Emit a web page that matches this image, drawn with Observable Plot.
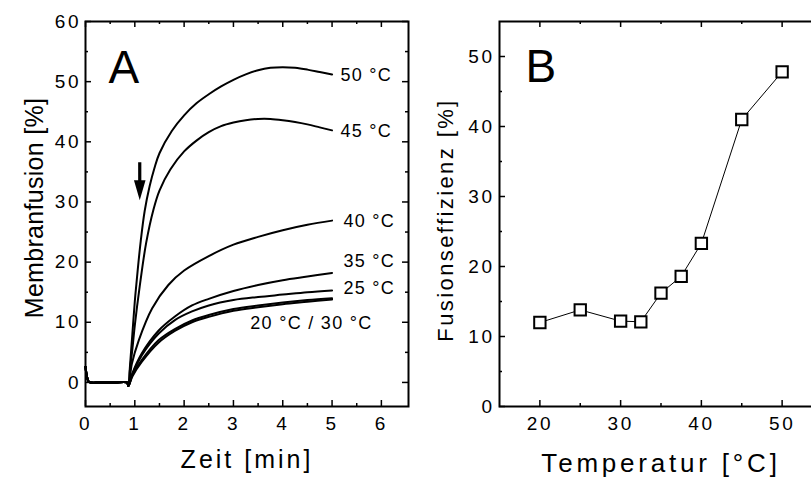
<!DOCTYPE html>
<html><head><meta charset="utf-8">
<script src="https://cdn.jsdelivr.net/npm/d3@7"></script>
<script src="https://cdn.jsdelivr.net/npm/@observablehq/plot@0.6"></script>
<style>
html,body{margin:0;padding:0;background:#fff;}
#wrap{position:relative;width:811px;height:480px;overflow:hidden;background:#fff;}
#a,#b{position:absolute;top:0;}
#a{left:0;} #b{left:410px;}
svg text{font-family:"Liberation Sans",Arial,sans-serif;}
g[aria-label="x-axis tick label"] text, g[aria-label="y-axis tick label"] text{letter-spacing:2.5px;}
</style>
</head><body>
<div id="wrap"><div id="a"></div><div id="b"></div></div>
<script>
// ---------- Panel A data: Membranfusion [%] vs Zeit [min] ----------
const baseT = [0, 0.03, 0.07, 0.3, 0.6, 0.84, 0.87];
const baseV = [2.6, 1.0, 0.1, 0, 0, 0, -0.6];

const t50 = [0.9, 0.95, 1.0, 1.06, 1.12, 1.2, 1.3, 1.4, 1.5, 1.75, 2.0, 2.25, 2.5, 2.75, 3.0, 3.25, 3.5, 3.75, 4.0, 4.25, 4.5, 4.75, 5.0];
const v50 = [2.5, 8, 13.5, 18.8, 23.5, 28.5, 32.6, 35.7, 38.1, 41.8, 44.4, 46.4, 47.9, 49.2, 50.3, 51.2, 51.9, 52.3, 52.4, 52.3, 52.0, 51.6, 51.2];

const t45 = [0.9, 0.95, 1.0, 1.1, 1.23, 1.38, 1.5, 1.72, 2.0, 2.25, 2.5, 2.75, 3.0, 3.25, 3.5, 3.75, 4.0, 4.25, 4.5, 4.75, 5.0];
const v45 = [2, 5.5, 9.5, 16, 23.2, 28.8, 31.9, 35.4, 38.4, 40.2, 41.6, 42.6, 43.2, 43.6, 43.8, 43.8, 43.6, 43.3, 42.9, 42.4, 41.9];

const t40 = [0.94, 1.08, 1.35, 1.68, 2.0, 2.5, 3.0, 3.5, 4.0, 4.5, 5.0];
const v40 = [3.1, 7.0, 12.3, 16.2, 18.6, 21.0, 22.9, 24.2, 25.3, 26.2, 26.9];

const t35 = [0.95, 1.14, 1.48, 1.82, 2.16, 2.5, 3.0, 3.5, 4.0, 4.5, 5.0];
const v35 = [1.5, 4.8, 8.6, 11.0, 12.8, 13.9, 15.2, 16.2, 17.0, 17.6, 18.2];

const t25 = [0.95, 1.14, 1.48, 1.82, 2.16, 2.5, 3.0, 3.5, 4.0, 4.5, 5.0];
const v25 = [1.4, 4.5, 8.1, 10.4, 11.8, 12.8, 13.7, 14.2, 14.6, 15.0, 15.3];

const t20 = [0.95, 1.14, 1.48, 1.82, 2.16, 2.5, 3.0, 3.5, 4.0, 4.5, 5.0];
const v20 = [1.2, 3.7, 7.0, 8.9, 10.3, 11.2, 12.2, 12.8, 13.3, 13.7, 14.0];

const t30 = [0.95, 1.14, 1.48, 1.82, 2.16, 2.5, 3.0, 3.5, 4.0, 4.5, 5.0];
const v30 = [1.0, 3.4, 6.6, 8.6, 10.0, 10.9, 11.9, 12.5, 13.0, 13.4, 13.8];

const curveNames = ["50", "45", "40", "35", "25", "20", "30"];
const curveT = [t50, t45, t40, t35, t25, t20, t30];
const curveV = [v50, v45, v40, v35, v25, v20, v30];

const labelText = ["50 °C", "45 °C", "40 °C", "35 °C", "25 °C", "20 °C / 30 °C"];
const labelT = [5.17, 5.17, 5.23, 5.23, 5.23, 3.34];
const labelV = [51.0, 41.7, 26.8, 20.1, 15.6, 9.9];

const arrowT = [1.1];
const arrowV = [36.6];

const xMajorA = [0, 1, 2, 3, 4, 5, 6];
const xMinorA = [0.5, 1.5, 2.5, 3.5, 4.5, 5.5];
const yMajorA = [0, 10, 20, 30, 40, 50, 60];
const yMinorA = [5, 15, 25, 35, 45, 55];

// ---------- Panel B data: Fusionseffizienz [%] vs Temperatur [°C] ----------
const temps = [20, 25, 30, 32.5, 35, 37.5, 40, 45, 50];
const effs = [12.0, 13.8, 12.2, 12.1, 16.2, 18.6, 23.3, 41.0, 47.8];

const xMajorB = [20, 30, 40, 50];
const xMinorB = [25, 35, 45];
const yMajorB = [0, 10, 20, 30, 40, 50];
const yMinorB = [5, 15, 25, 35, 45];

// ---------- build ----------
const curves = [];
curveNames.forEach((name, k) => {
  baseT.forEach((t, i) => curves.push({name, t, v: baseV[i]}));
  curveT[k].forEach((t, i) => curves.push({name, t, v: curveV[k][i]}));
});
const labels = labelText.map((text, i) => ({text, t: labelT[i], v: labelV[i]}));
const arrows = arrowT.map((t, i) => ({t, v: arrowV[i]}));
const points = temps.map((t, i) => ({t, e: effs[i]}));

const arrowSymbol = {
  draw(ctx) {
    ctx.moveTo(-1.6, 0);
    ctx.lineTo(1.6, 0);
    ctx.lineTo(1.6, 18);
    ctx.lineTo(5.8, 18);
    ctx.lineTo(0, 38);
    ctx.lineTo(-5.8, 18);
    ctx.lineTo(-1.6, 18);
    ctx.closePath();
  }
};

function tickMarks(xMaj, xMin, yMaj, yMin, iw, ih, right) {
  const sw = 1.5, L = 6, l = 3;
  const m = [
    Plot.tickX(xMaj, {x: d => d, insetTop: ih - L, strokeWidth: sw}),
    Plot.tickX(xMaj, {x: d => d, insetBottom: ih - L, strokeWidth: sw}),
    Plot.tickX(xMin, {x: d => d, insetTop: ih - l, strokeWidth: sw}),
    Plot.tickX(xMin, {x: d => d, insetBottom: ih - l, strokeWidth: sw}),
    Plot.tickY(yMaj, {y: d => d, insetRight: iw - L, strokeWidth: sw}),
    Plot.tickY(yMin, {y: d => d, insetRight: iw - l, strokeWidth: sw})
  ];
  if (right) {
    m.push(Plot.tickY(yMaj, {y: d => d, insetLeft: iw - L, strokeWidth: sw}));
    m.push(Plot.tickY(yMin, {y: d => d, insetLeft: iw - l, strokeWidth: sw}));
  }
  return m;
}

function spacing(svg, rules) {
  svg.querySelectorAll("text").forEach(t => {
    const s = t.textContent;
    for (const [match, px] of rules) {
      if (s === match) t.style.letterSpacing = px + "px";
    }
  });
}

const style = {fontFamily: "Liberation Sans, Arial, sans-serif", color: "black", background: "white", maxWidth: "none", overflow: "visible"};

// Panel A
const WA = 420, HA = 480, mlA = 85, mrA = 12, mtA = 21, mbA = 74;
const plotA = Plot.plot({
  width: WA, height: HA,
  marginLeft: mlA, marginRight: mrA, marginTop: mtA, marginBottom: mbA,
  style,
  x: {domain: [0, 6.55]},
  y: {domain: [-4, 60]},
  marks: [
    Plot.line(curves, {x: "t", y: "v", z: "name", curve: "catmull-rom", strokeWidth: 2, stroke: "black"}),
    Plot.text(labels, {x: "t", y: "v", text: "text", textAnchor: "start", fontSize: 18}),
    Plot.dot(arrows, {x: "t", y: "v", symbol: arrowSymbol, fill: "black", stroke: "none"}),
    ...tickMarks(xMajorA, xMinorA, yMajorA, yMinorA, WA - mlA - mrA, HA - mtA - mbA, true),
    Plot.frame({strokeWidth: 2}),
    Plot.axisX(xMajorA, {tickSize: 0, tickPadding: 10, fontSize: 19, label: null, tickFormat: d => String(d)}),
    Plot.axisY(yMajorA, {tickSize: 0, tickPadding: 4.5, fontSize: 19, label: null, tickFormat: d => String(d)}),
    Plot.text(["A"], {text: d => d, frameAnchor: "top-left", textAnchor: "start", lineAnchor: "top", dx: 23, dy: 29, fontSize: 46}),
    Plot.text(["Zeit [min]"], {text: d => d, frameAnchor: "bottom", textAnchor: "middle", lineAnchor: "top", dy: 44, fontSize: 25}),
    Plot.text(["Membranfusion [%]"], {text: d => d, frameAnchor: "left", textAnchor: "middle", rotate: -90, lineAnchor: "middle", dx: -51, dy: -6, fontSize: 25})
  ]
});
spacing(plotA, [["Zeit [min]", 3], ["Membranfusion [%]", 0.3], ...labelText.map(s => [s, 1.3])]);
document.getElementById("a").appendChild(plotA);

// Panel B
const WB = 430, HB = 480, mlB = 89, mrB = 18, mtB = 21, mbB = 74;
const plotB = Plot.plot({
  width: WB, height: HB,
  marginLeft: mlB, marginRight: mrB, marginTop: mtB, marginBottom: mbB,
  style,
  x: {domain: [15, 55]},
  y: {domain: [0, 55]},
  marks: [
    Plot.line(points, {x: "t", y: "e", strokeWidth: 1, stroke: "black"}),
    Plot.dot(points, {x: "t", y: "e", symbol: "square", r: 6.4, fill: "white", stroke: "black", strokeWidth: 2}),
    ...tickMarks(xMajorB, xMinorB, yMajorB, yMinorB, WB - mlB - mrB, HB - mtB - mbB, true),
    Plot.frame({strokeWidth: 2}),
    Plot.axisX(xMajorB, {tickSize: 0, tickPadding: 10, fontSize: 19, label: null, tickFormat: d => String(d)}),
    Plot.axisY(yMajorB, {tickSize: 0, tickPadding: 5, fontSize: 19, label: null, tickFormat: d => String(d)}),
    Plot.text(["B"], {text: d => d, frameAnchor: "top-left", textAnchor: "start", lineAnchor: "top", dx: 26, dy: 28, fontSize: 46}),
    Plot.text(["Temperatur [°C]"], {text: d => d, frameAnchor: "bottom", textAnchor: "middle", lineAnchor: "top", dy: 47, fontSize: 26}),
    Plot.text(["Fusionseffizienz [%]"], {text: d => d, frameAnchor: "left", textAnchor: "middle", rotate: -90, lineAnchor: "middle", dx: -54, dy: 6, fontSize: 22})
  ]
});
spacing(plotB, [["Temperatur [°C]", 3.8], ["Fusionseffizienz [%]", 2.4]]);
document.getElementById("b").appendChild(plotB);
</script>
</body></html>
